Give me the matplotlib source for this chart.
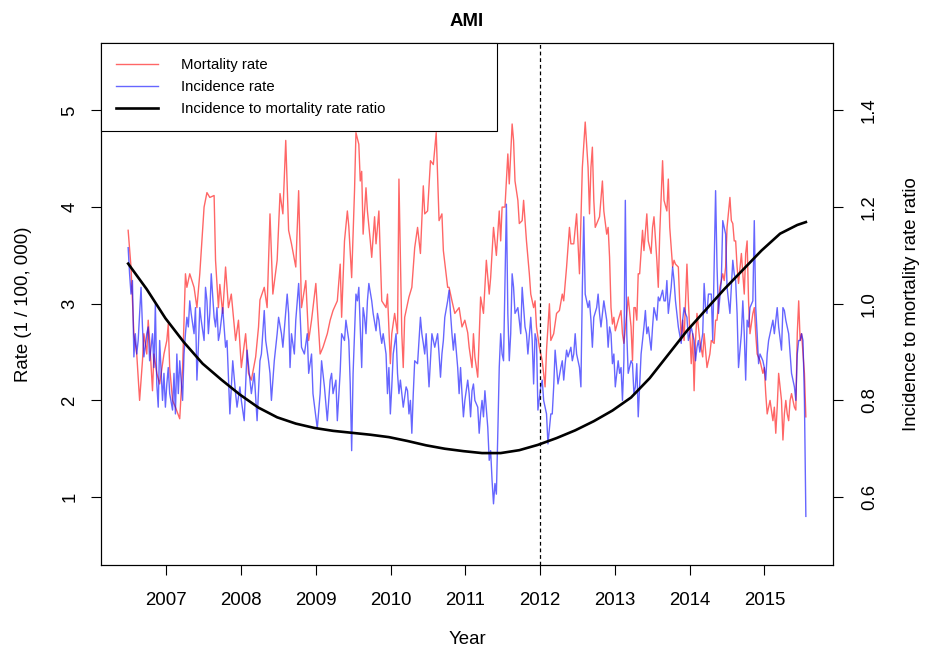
import numpy as np
import matplotlib
matplotlib.use("Agg")
import matplotlib.pyplot as plt

plt.rcParams['font.family'] = ['Liberation Sans', 'DejaVu Sans']

# Weekly series: week index since the first observation (late June 2006)
mort_week = [0, 2, 4, 6, 8, 10, 11, 13, 14, 15, 17, 18, 20, 22, 25, 27, 28, 29, 31, 33,
             36, 38, 40, 41, 43, 46, 48, 50, 53, 55, 57, 60, 61, 63, 64, 66, 68, 70, 72, 75,
             77, 79, 82, 84, 86, 89, 91, 92, 95, 97, 99, 101, 104, 106, 108, 110, 112, 114, 117, 119,
             121, 124, 126, 128, 131, 134, 136, 139, 141, 143, 146, 148, 149, 151, 153, 154, 156, 158, 159, 161,
             162, 163, 164, 166, 167, 169, 170, 172, 173, 175, 177, 180, 181, 183, 184, 186, 188, 189, 191, 192,
             193, 196, 198, 200, 202, 204, 206, 207, 209, 211, 213, 215, 217, 219, 220, 223, 224, 226, 228, 231,
             233, 235, 237, 238, 240, 241, 242, 244, 246, 248, 250, 252, 253, 255, 257, 259, 260, 261, 263, 265,
             266, 268, 269, 270, 272, 273, 275, 276, 278, 280, 281, 283, 284, 285, 287, 289, 291, 292, 294, 295,
             297, 299, 301, 303, 304, 306, 308, 309, 311, 313, 315, 317, 319, 321, 322, 323, 324, 325, 326, 329,
             331, 332, 334, 335, 336, 337, 338, 339, 340, 342, 344, 345, 346, 348, 349, 351, 352, 353, 354, 355,
             356, 357, 359, 360, 362, 363, 365, 366, 367, 369, 370, 371, 373, 374, 376, 377, 378, 380, 381, 382,
             384, 386, 387, 388, 390, 391, 393, 394, 395, 396, 397, 399, 401, 402, 404, 406, 407, 409, 410, 411,
             413, 415, 416, 417, 418, 420, 421, 422, 423, 424, 425, 426, 428, 429, 430, 431, 432, 433, 434, 436,
             437, 438, 439, 441, 443, 444, 445, 446, 448, 450, 451, 452, 453, 454, 456, 457, 458, 459, 460, 461,
             462, 463, 465, 466, 467, 468, 469, 470, 472, 473]
mort_rate = [3.76, 3.38, 2.69, 2.48, 2.00, 2.41, 2.69, 2.48, 2.83, 2.62, 2.10, 2.48, 2.28, 2.17, 2.48, 2.62, 2.79, 2.34, 2.00, 1.93,
             1.81, 2.34, 3.31, 3.17, 3.31, 3.17, 2.96, 3.31, 4.00, 4.15, 4.10, 4.12, 3.45, 2.96, 3.20, 2.90, 3.38, 2.96, 3.10, 2.62,
             2.83, 2.34, 2.69, 2.28, 2.21, 2.45, 2.76, 3.04, 3.17, 2.96, 3.93, 3.10, 3.45, 4.14, 3.93, 4.69, 3.76, 3.62, 3.38, 4.17,
             2.96, 3.24, 2.62, 2.83, 3.21, 2.48, 2.55, 2.69, 2.83, 2.93, 3.03, 3.41, 2.86, 3.65, 3.96, 3.80, 3.27, 4.17, 4.77, 4.65,
             4.27, 4.37, 3.72, 4.20, 3.96, 3.65, 3.48, 3.90, 3.62, 3.96, 3.03, 2.96, 3.10, 2.38, 2.69, 2.90, 2.69, 4.29, 2.69, 2.34,
             2.86, 3.07, 3.17, 3.58, 3.79, 3.52, 4.22, 3.93, 3.96, 4.48, 4.44, 4.77, 3.86, 3.93, 3.55, 3.17, 3.17, 3.03, 2.90, 2.96,
             2.76, 2.83, 2.70, 2.55, 2.34, 2.69, 2.45, 2.24, 3.07, 2.90, 3.45, 3.10, 3.27, 3.79, 3.50, 3.96, 3.65, 4.00, 4.00, 4.55,
             4.24, 4.86, 4.69, 4.27, 4.07, 3.83, 3.86, 4.07, 3.65, 3.31, 3.10, 2.96, 3.03, 2.76, 2.55, 2.41, 2.14, 2.52, 3.00, 2.62,
             2.69, 2.90, 2.93, 3.10, 3.03, 3.38, 3.79, 3.62, 3.62, 3.93, 3.31, 4.41, 4.88, 4.41, 3.93, 4.41, 4.62, 4.07, 3.79, 3.90,
             4.27, 3.96, 3.72, 3.79, 3.48, 2.96, 2.79, 2.86, 2.72, 2.83, 2.93, 2.69, 2.59, 2.90, 3.07, 2.76, 2.41, 2.96, 2.96, 2.83,
             3.31, 3.31, 3.76, 3.55, 3.93, 3.65, 3.52, 3.79, 3.90, 3.45, 3.17, 3.72, 4.48, 4.07, 3.96, 4.29, 3.79, 3.38, 3.45, 3.41,
             3.38, 2.62, 2.83, 2.62, 3.41, 3.03, 2.38, 2.69, 2.10, 2.62, 2.90, 2.62, 2.45, 2.69, 2.34, 2.48, 2.62, 2.59, 2.83, 2.83,
             3.17, 3.31, 3.24, 3.38, 3.79, 4.10, 3.86, 3.83, 3.65, 3.65, 3.38, 3.21, 3.52, 3.31, 3.10, 3.52, 3.65, 3.03, 2.69, 2.90,
             2.96, 2.69, 2.48, 2.41, 2.28, 2.34, 2.07, 1.86, 2.00, 1.79, 1.93, 1.66, 1.93, 2.28, 2.00, 1.59, 1.86, 2.00, 1.86, 1.79,
             2.00, 2.07, 1.93, 1.90, 2.69, 3.03, 2.62, 2.69, 2.28, 1.83]

inc_week = [0, 1, 2, 3, 4, 5, 6, 7, 9, 10, 11, 13, 14, 15, 17, 18, 19, 20, 21, 22,
            24, 25, 26, 27, 28, 29, 31, 32, 33, 34, 35, 36, 38, 39, 40, 41, 42, 43, 44, 46,
            47, 48, 49, 50, 51, 53, 54, 55, 56, 57, 58, 60, 61, 62, 63, 64, 66, 68, 69, 71,
            73, 75, 76, 78, 79, 81, 83, 85, 86, 88, 90, 92, 93, 95, 96, 98, 99, 100, 102, 104,
            105, 107, 108, 111, 112, 113, 114, 116, 117, 119, 120, 121, 123, 125, 126, 128, 129, 132, 134, 135,
            137, 139, 141, 142, 143, 145, 146, 148, 149, 151, 152, 154, 155, 156, 157, 159, 160, 161, 162, 163,
            164, 165, 166, 167, 168, 170, 171, 173, 174, 175, 176, 177, 178, 180, 181, 182, 183, 184, 185, 187,
            188, 189, 190, 191, 192, 194, 195, 196, 197, 198, 199, 200, 202, 204, 205, 206, 207, 208, 210, 211,
            212, 214, 216, 217, 218, 219, 220, 221, 223, 224, 225, 226, 227, 228, 230, 231, 232, 233, 234, 235,
            237, 238, 239, 240, 241, 242, 244, 245, 246, 247, 248, 249, 251, 252, 253, 254, 255, 256, 257, 258,
            259, 260, 261, 262, 264, 265, 266, 267, 268, 269, 270, 272, 273, 274, 275, 276, 277, 278, 279, 281,
            282, 283, 284, 285, 286, 288, 289, 290, 291, 292, 293, 295, 296, 297, 298, 299, 300, 302, 303, 304,
            305, 306, 307, 309, 310, 311, 312, 313, 315, 316, 317, 318, 319, 321, 322, 323, 324, 325, 327, 328,
            329, 330, 331, 332, 334, 335, 336, 337, 338, 339, 340, 342, 343, 344, 345, 346, 347, 348, 349, 351,
            352, 353, 354, 355, 356, 358, 359, 360, 361, 362, 363, 365, 366, 367, 369, 370, 371, 373, 374, 375,
            376, 377, 379, 380, 381, 382, 383, 384, 386, 387, 388, 389, 390, 391, 393, 394, 395, 396, 397, 398,
            399, 401, 402, 403, 404, 405, 407, 408, 409, 410, 411, 412, 414, 415, 416, 417, 418, 420, 421, 422,
            423, 424, 425, 426, 428, 429, 430, 431, 432, 433, 434, 436, 437, 438, 439, 440, 441, 443, 444, 445,
            446, 447, 448, 450, 451, 452, 453, 454, 456, 457, 458, 459, 460, 461, 462, 463, 465, 466, 467, 468,
            469, 470, 471, 472, 473]
inc_rate = [3.58, 3.31, 3.10, 3.24, 2.45, 2.69, 2.48, 2.62, 3.17, 2.76, 2.45, 2.69, 2.76, 2.41, 2.69, 2.34, 3.00, 2.17, 1.93, 2.62,
            2.00, 2.28, 1.93, 2.17, 2.34, 2.07, 1.90, 2.28, 1.86, 2.48, 2.07, 2.41, 2.00, 2.48, 2.69, 2.86, 2.76, 3.03, 2.90, 2.69,
            2.96, 2.21, 2.55, 2.96, 2.83, 2.62, 3.17, 3.03, 2.69, 2.90, 3.31, 2.86, 2.76, 2.96, 2.62, 2.70, 2.96, 2.55, 2.62, 1.86,
            2.41, 2.07, 1.93, 2.14, 2.00, 1.79, 2.52, 2.21, 2.07, 2.28, 1.79, 2.41, 2.48, 2.93, 2.62, 2.41, 2.28, 2.00, 2.41, 2.69,
            2.86, 2.69, 2.55, 3.10, 2.90, 2.34, 2.69, 2.48, 2.83, 3.21, 2.90, 2.55, 2.48, 2.69, 2.28, 2.48, 2.07, 1.71, 2.07, 2.41,
            2.14, 1.79, 2.21, 2.28, 2.07, 2.21, 1.79, 2.30, 2.69, 2.62, 2.83, 2.62, 2.17, 1.48, 2.28, 3.10, 3.03, 3.17, 2.76, 2.34,
            2.96, 2.86, 2.69, 3.03, 3.21, 3.03, 2.90, 2.72, 2.90, 2.83, 2.69, 2.59, 2.69, 2.48, 2.07, 2.34, 1.86, 2.14, 2.48, 2.69,
            2.28, 2.07, 2.21, 2.07, 1.93, 2.14, 2.10, 1.86, 2.00, 1.66, 2.07, 2.41, 2.38, 2.86, 2.69, 2.59, 2.48, 2.69, 2.14, 2.41,
            2.69, 2.55, 2.69, 2.48, 2.24, 2.48, 2.62, 2.86, 3.03, 3.14, 2.90, 2.69, 2.52, 2.69, 2.34, 2.07, 2.34, 2.07, 1.83, 2.00,
            2.21, 2.07, 1.83, 2.10, 2.17, 2.00, 1.93, 1.66, 1.86, 2.00, 1.83, 2.10, 1.72, 1.38, 1.48, 1.17, 0.93, 1.14, 1.03, 1.66,
            2.34, 2.69, 2.48, 2.41, 4.03, 2.90, 2.41, 2.69, 3.31, 3.17, 2.90, 2.96, 2.83, 2.69, 3.17, 2.96, 2.76, 2.69, 2.48, 2.86,
            2.62, 2.17, 2.69, 2.62, 1.90, 2.14, 2.21, 2.00, 1.93, 1.86, 1.55, 1.86, 1.86, 2.14, 2.52, 2.34, 2.17, 2.34, 2.41, 2.21,
            2.38, 2.52, 2.45, 2.55, 2.41, 2.48, 2.69, 2.48, 2.34, 2.14, 3.17, 3.90, 3.10, 2.96, 3.03, 2.83, 2.55, 2.86, 2.96, 3.10,
            2.90, 2.76, 2.90, 3.03, 2.83, 2.55, 2.76, 2.69, 2.38, 2.48, 2.14, 2.41, 2.28, 2.34, 2.00, 2.41, 4.07, 2.69, 2.28, 2.41,
            2.38, 2.07, 2.14, 2.38, 1.83, 2.48, 2.62, 2.76, 2.93, 2.69, 2.76, 2.52, 2.76, 2.96, 2.83, 3.07, 3.03, 3.14, 3.03, 3.03,
            3.24, 2.90, 3.17, 3.38, 3.24, 3.03, 2.90, 2.76, 2.59, 2.83, 2.96, 2.90, 2.86, 2.62, 2.76, 2.69, 2.62, 2.41, 2.55, 2.62,
            2.50, 2.69, 3.21, 2.96, 2.90, 3.10, 3.10, 2.62, 3.38, 4.17, 3.38, 2.90, 3.24, 3.86, 3.79, 3.72, 3.17, 2.90, 3.17, 3.45,
            3.31, 3.24, 2.90, 2.34, 2.69, 3.03, 2.69, 2.21, 2.83, 2.76, 2.96, 3.03, 3.86, 2.96, 2.69, 2.38, 2.48, 2.41, 2.34, 2.21,
            2.48, 2.62, 2.69, 2.83, 2.69, 2.83, 2.96, 2.76, 2.52, 2.96, 2.93, 2.83, 2.76, 2.69, 2.48, 2.28, 2.14, 2.00, 2.48, 2.62,
            2.62, 2.69, 2.62, 2.00, 0.80]

# Smoothed incidence-to-mortality ratio (right axis)
ratio_week = [0, 13, 26, 39, 52, 65, 78, 91, 104, 117, 130, 143, 156, 169, 182, 195, 208, 221, 234,
              247, 260, 273, 286, 299, 312, 325, 338, 351, 364, 377, 390, 403, 416, 429, 442, 455, 467, 473]
ratio_val = [1.083, 1.030, 0.970, 0.920, 0.876, 0.843, 0.812, 0.785, 0.765, 0.752, 0.743, 0.737, 0.733,
             0.729, 0.724, 0.716, 0.707, 0.700, 0.695, 0.691, 0.691, 0.697, 0.708, 0.722, 0.738, 0.757,
             0.779, 0.806, 0.846, 0.895, 0.944, 0.987, 1.030, 1.070, 1.110, 1.145, 1.163, 1.169]

start_year = 2006.49
year_ticks = list(range(2007, 2016))
policy_year = 2012.0


def to_year(weeks):
    return start_year + np.asarray(weeks) * 7 / 365.25


W, H = 925, 651
fig = plt.figure(figsize=(W / 100, H / 100), dpi=100)
L, R, T, B = 101, 833, 42.5, 565
ax = fig.add_axes([L / W, 1 - B / H, (R - L) / W, (B - T) / H])

line_m, = ax.plot(to_year(mort_week), mort_rate, color='#ff0000', alpha=0.6, lw=1.0,
                  label='Mortality rate', zorder=2)
line_i, = ax.plot(to_year(inc_week), inc_rate, color='#0000ff', alpha=0.6, lw=1.0,
                  label='Incidence rate', zorder=3)
ax.axvline(policy_year, color='black', lw=0.9, ls=(0, (3, 2.3)), zorder=4)

ax.set_xlim(2006.127, 2015.918)
ylo, yhi = 0.297, 5.703
ax.set_ylim(ylo, yhi)
ax.set_xticks(year_ticks)
ax.set_xticklabels([str(y) for y in year_ticks])
ax.set_yticks([1, 2, 3, 4, 5])

ax2 = ax.twinx()
line_r, = ax2.plot(to_year(ratio_week), ratio_val, color='black', lw=1.9,
                   label='Incidence to mortality rate ratio', zorder=5)
ax2.set_ylim(0.4 + 0.2 * ylo, 0.4 + 0.2 * yhi)
ax2.set_yticks([0.6, 0.8, 1.0, 1.2, 1.4])
ax2.set_yticklabels(['0.6', '0.8', '1.0', '1.2', '1.4'])

fs = 13.4
for a in (ax, ax2):
    for s in a.spines.values():
        s.set_linewidth(0.8)
        s.set_color('black')
ax.tick_params(axis='x', direction='out', length=7.2, width=0.8, labelsize=fs, pad=12)
ax.tick_params(axis='y', direction='out', length=7.2, width=0.8, labelsize=fs, pad=9,
               labelrotation=90)
for lab in ax.get_yticklabels():
    lab.set_va('center')
ax2.tick_params(axis='y', direction='out', length=7.2, width=0.8, labelsize=fs, pad=13,
                labelrotation=90)
for lab in ax2.get_yticklabels():
    lab.set_va('center')

fig.text(467 / W, 1 - 640 / H, 'Year', ha='center', va='center', fontsize=fs)
fig.text(24 / W, 1 - 304 / H, 'Rate (1 / 100, 000)', rotation=90, ha='center', va='center',
         fontsize=fs)
fig.text(912 / W, 1 - 304 / H, 'Incidence to mortality rate ratio', rotation=90,
         ha='center', va='center', fontsize=fs)
fig.text(467 / W, 1 - 22 / H, 'AMI', ha='center', va='center', fontsize=fs, fontweight='bold')

leg_h = 0.01
leg = ax2.legend(handles=[line_m, line_i, line_r], loc='upper left',
                 bbox_to_anchor=(L / W, 1 - T / H - leg_h, (497 - L) / W, leg_h),
                 bbox_transform=fig.transFigure, mode='expand', borderaxespad=0,
                 fontsize=10.7, frameon=True, fancybox=False, borderpad=1.04,
                 labelspacing=0.54, handlelength=2.8, handletextpad=1.55)
leg.get_frame().set_edgecolor('black')
leg.get_frame().set_linewidth(0.8)
leg.get_frame().set_alpha(1)

fig.savefig('out.png', dpi=100)
